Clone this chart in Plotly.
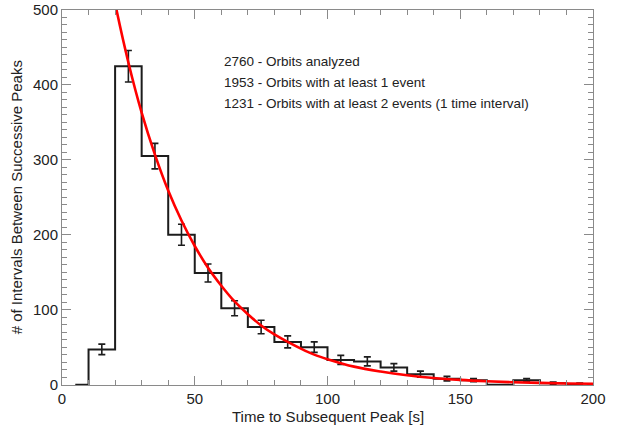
import plotly.graph_objects as go

# Histogram bin centres [s] and counts
bin_centers = [5, 15, 25, 35, 45, 55, 65, 75, 85, 95, 105, 115, 125, 135, 145, 155, 165, 175, 185, 195]
counts = [0, 47, 425, 305, 200, 149, 102, 77, 57, 50, 33, 31, 23, 14, 8, 6, 0, 6, 2, 1]
# error bars (counting errors) at bin centres
err_x = [15, 25, 35, 45, 55, 65, 75, 85, 95, 105, 115, 125, 135, 145, 155, 175, 185, 195]
err_y = [47, 425, 305, 200, 149, 102, 77, 57, 50, 33, 31, 23, 14, 8, 6, 6, 2, 1]
err_size = [7, 21, 17, 14, 12, 10, 9, 8, 7, 6, 6, 5, 4, 3, 2, 2, 1.5, 1]

# exponential fit curve
fit_t = [18, 20, 25, 30, 35, 40, 45, 50, 55, 60, 65, 70, 75, 80, 85, 90, 95, 100,
         110, 120, 130, 140, 150, 160, 170, 180, 190, 200]
fit_n = [545, 509, 430, 363, 307, 259, 219, 185, 156, 132, 111, 94, 79, 67, 57, 48, 40, 34,
         24, 17.4, 12.4, 8.8, 6.3, 4.5, 3.2, 2.3, 1.6, 1.2]

notes = ["2760 - Orbits analyzed",
         "1953 - Orbits with at least 1 event",
         "1231 - Orbits with at least 2 events (1 time interval)"]

x_ticks = [0, 50, 100, 150, 200]
y_ticks = [0, 100, 200, 300, 400, 500]

FONT = "Liberation Sans, Arial, sans-serif"
AX = "#8a8a8a"

fig = go.Figure()
fig.add_trace(go.Scatter(x=bin_centers, y=counts, mode="lines",
                         line=dict(color="#1c1c1c", width=2, shape="hvh"),
                         showlegend=False, hoverinfo="skip"))
fig.add_trace(go.Scatter(x=err_x, y=err_y, mode="markers",
                         marker=dict(size=1, color="rgba(0,0,0,0)"),
                         error_y=dict(type="data", array=err_size, visible=True,
                                      color="#1c1c1c", thickness=1.6, width=3.5),
                         showlegend=False, hoverinfo="skip"))
fig.add_trace(go.Scatter(x=fit_t, y=fit_n, mode="lines",
                         line=dict(color="#ff0000", width=2.6, shape="spline"),
                         showlegend=False, hoverinfo="skip"))

axis_common = dict(showline=True, linecolor=AX, linewidth=1, mirror="allticks",
                   ticks="inside", tickcolor=AX, tickwidth=1, ticklen=9,
                   showgrid=False, zeroline=False, automargin=False,
                   tickfont=dict(family=FONT, size=15, color="#222"))

fig.update_xaxes(range=[0, 200], tickvals=x_ticks, ticktext=[str(v) for v in x_ticks],
                 minor=dict(dtick=10, ticklen=5, tickcolor=AX, ticks="inside"),
                 **axis_common)
fig.update_yaxes(range=[-0.5, 500], tickvals=y_ticks, ticktext=[str(v) for v in y_ticks],
                 minor=dict(dtick=10, ticklen=5, tickcolor=AX, ticks="inside"),
                 **axis_common)

ann = []
for i, t in enumerate(notes):
    ann.append(dict(text=t, xref="paper", yref="paper", x=0.301, y=[0.862, 0.806, 0.750][i],
                    xanchor="left", yanchor="middle", showarrow=False,
                    font=dict(family=FONT, size=13.5, color="#222")))
ann.append(dict(text="Time to Subsequent Peak [s]", xref="paper", yref="paper",
                x=0.5, y=-0.085, xanchor="center", yanchor="middle", showarrow=False,
                font=dict(family=FONT, size=15, color="#222")))
ann.append(dict(text="# of Intervals Between Successive Peaks", xref="paper", yref="paper",
                x=-0.085, y=0.5, xanchor="center", yanchor="middle", showarrow=False,
                textangle=-90, font=dict(family=FONT, size=15, color="#222")))

fig.update_layout(width=617, height=427,
                  margin=dict(l=62, r=24, t=10, b=42),
                  paper_bgcolor="white", plot_bgcolor="white",
                  annotations=ann, showlegend=False)

fig.write_html("out.html")
